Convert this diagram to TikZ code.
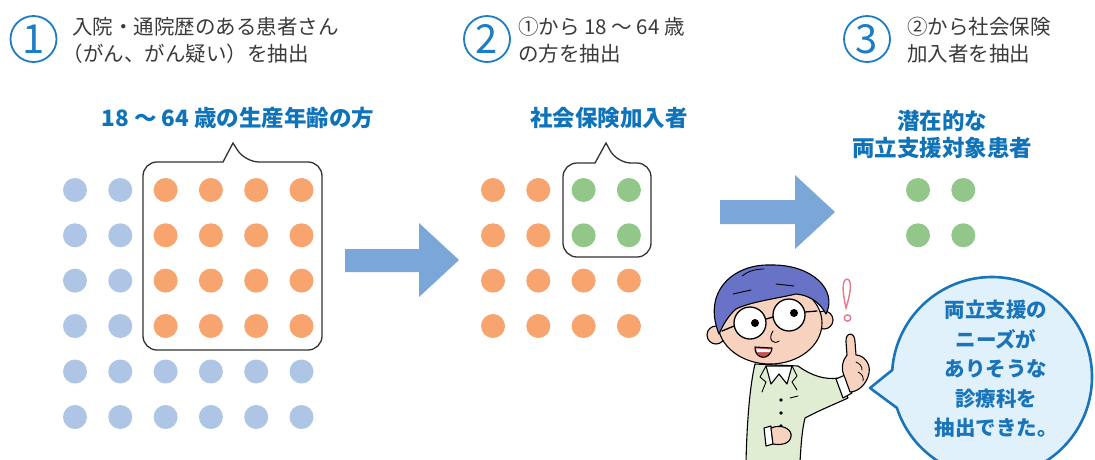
\documentclass[tikz,border=0pt]{standalone}
\usepackage{fontspec}
\setmainfont{Noto Sans CJK JP}
\definecolor{hdgray}{HTML}{3A3A3A}
\definecolor{numblue}{HTML}{1C7DC4}
\definecolor{headblue}{HTML}{0F73BA}
\definecolor{dotblue}{HTML}{AEC5E5}
\definecolor{dotorange}{HTML}{F7A46E}
\definecolor{dotgreen}{HTML}{93C78A}
\definecolor{arrowblue}{HTML}{7BA7D8}
\definecolor{bubblefill}{HTML}{E0F1FB}
\definecolor{bubbleline}{HTML}{1A74BA}
\definecolor{frameline}{HTML}{333333}
\definecolor{skin}{HTML}{F7D3BF}
\definecolor{hair}{HTML}{6872C6}
\definecolor{jacket}{HTML}{E0EDD3}
\definecolor{exclam}{HTML}{E8788A}
\definecolor{mouthred}{HTML}{C8504D}
\tikzset{
  numcirc/.style={circle, draw=numblue, line width=1.8pt, minimum size=46pt, inner sep=0pt,
    text=numblue, font=\fontsize{40}{40}\selectfont},
  hd/.style={anchor=west, align=left, inner sep=0pt, text=hdgray,
    font=\fontsize{20.5}{27}\selectfont},
  bh/.style={align=center, inner sep=0pt, text=headblue,
    font=\bfseries\fontsize{22.5}{27}\selectfont},
  bt/.style={align=center, inner sep=0pt, text=bubbleline,
    font=\bfseries\fontsize{20.5}{29.5}\selectfont},
  callout/.style={draw=frameline, line width=1.3pt, fill=white},
  bigarrow/.style={fill=arrowblue},
  ink/.style={draw=black, line width=1.1pt, line join=round, line cap=round},
}
\newcommand{\dotrow}[4]{% x0, y, count, colour
  \foreach \k in {1,...,#3}{\fill[#4] ({#1+(\k-1)*45.3},#2) circle (12);}}
\begin{document}
\begin{tikzpicture}[x=1pt,y=-1pt]
\useasboundingbox (0,0) rectangle (1095,459);
\fill[white] (0,0) rectangle (1095,459);
\clip (0,0) rectangle (1095,459);

% ---------- step headers ----------
\node[numcirc] (n1) at (33.5,39) {1};
\node[hd] (h1) at (72,40) {入院・通院歴のある患者さん\\\kern-0.45em（がん、がん疑い）を抽出};
\node[numcirc] (n2) at (487,39) {2};
\node[hd] (h2) at (518,40) {①から 18 ～ 64 歳\\の方を抽出};
\node[numcirc] (n3) at (867,39) {3};
\node[hd] (h3) at (907,40) {②から社会保険\\加入者を抽出};

% ---------- headings ----------
\node[bh] (t1) at (238,118) {18 ～ 64 歳の生産年齢の方};
\node[bh] (t2) at (609,118) {社会保険加入者};
\node[bh] (t3) at (942,134) {潜在的な\\両立支援対象患者};

% ---------- group 1 ----------
\draw[callout] (223,162) [rounded corners=14] -- (143,162) -- (143,350) -- (322,350) -- (322,162) -- (245,162)
  [sharp corners] -- (233,143) -- cycle;
\foreach \r in {190,235.3,280.6,326}{
  \dotrow{75}{\r}{2}{dotblue}
  \dotrow{165.6}{\r}{4}{dotorange}}
\dotrow{75}{371.5}{6}{dotblue}
\dotrow{75}{417}{6}{dotblue}

% ---------- arrow 1 ----------
\fill[bigarrow] (345,249) -- (419,249) -- (419,223) -- (459,260) -- (419,297) -- (419,272) -- (345,272) -- cycle;

% ---------- group 2 ----------
\draw[callout] (595,163) [rounded corners=14] -- (563,163) -- (563,257) -- (651,257) -- (651,163) -- (617,163)
  [sharp corners] -- (606,143) -- cycle;
\foreach \r in {190,235.3}{
  \dotrow{493}{\r}{2}{dotorange}
  \dotrow{583.6}{\r}{2}{dotgreen}}
\foreach \r in {280.6,326}{\dotrow{493}{\r}{4}{dotorange}}

% ---------- arrow 2 ----------
\fill[bigarrow] (720,200) -- (795,200) -- (795,175) -- (835,212) -- (795,249) -- (795,224) -- (720,224) -- cycle;

% ---------- group 3 ----------
\foreach \r in {190,235.3}{\dotrow{918}{\r}{2}{dotgreen}}

% ---------- the pointing doctor ----------
% jacket
\filldraw[ink, fill=jacket] (755,364) .. controls (750,385) and (747,420) .. (746,462)
  -- (800,462) .. controls (801,445) and (802,430) .. (805,418)
  .. controls (820,410) and (835,404) .. (848,398) -- (839,378)
  .. controls (825,380) and (812,376) .. (798,366) -- cycle;
% shirt collar
\filldraw[ink, fill=white] (766,366) -- (771,384) -- (779,374) -- (787,384) -- (792,366) -- cycle;
\draw[ink, line width=0.9pt] (766,366) -- (760,377) -- (766,382) -- (762,392);
\draw[ink, line width=0.9pt] (792,366) -- (797,376) -- (792,382) -- (797,390);
\draw[ink, line width=0.9pt] (790,398) -- (798,396);
\foreach \b in {400,413,426}{\fill (781,\b) circle (1.8);}
% raised arm cuff and hand
\filldraw[ink, fill=white] (836,379) -- (845,375) -- (852,393) -- (843,398) -- cycle;
\filldraw[ink, fill=skin] (845,378) .. controls (840,368) and (843,360) .. (847,355)
  -- (846,342) .. controls (845,332) and (855,331) .. (855,342) -- (856,355)
  .. controls (863,355) and (871,363) .. (869,373) .. controls (867,384) and (858,392) .. (850,392) -- cycle;
\draw[ink, line width=0.8pt] (856,362) .. controls (860,364) and (862,366) .. (862,370);
\draw[ink, line width=0.8pt] (858,372) .. controls (862,374) and (864,377) .. (863,381);
% lower fist
\filldraw[ink, fill=white] (764,428) -- (771,426) -- (773,444) -- (766,446) -- cycle;
\filldraw[ink, fill=skin] (771,428) .. controls (780,424) and (790,428) .. (791,434)
  .. controls (792,442) and (784,446) .. (773,444) -- cycle;
% ears
\filldraw[ink, fill=skin] (716,335) circle (9);
\filldraw[ink, fill=skin] (824,320) circle (9);
% face
\filldraw[ink, fill=skin] (770,323) ellipse [x radius=52, y radius=41];
% hair
\filldraw[ink, fill=hair] (719,334) .. controls (702,292) and (733,264) .. (770,265)
  .. controls (812,264) and (838,290) .. (826,314)
  .. controls (819,301) and (808,295) .. (796,294)
  .. controls (774,299) and (750,302) .. (736,309)
  .. controls (728,316) and (723,325) .. (719,334) -- cycle;
\draw[ink, line width=0.9pt] (733,294) -- (751,290);
\draw[ink, line width=0.9pt] (776,284) -- (794,286);
\draw[ink, line width=0.8pt] (742,276) .. controls (748,271) and (756,269) .. (764,269);
% glasses
\filldraw[ink, line width=1.3pt, fill=white] (750,323) circle (16);
\filldraw[ink, line width=1.3pt, fill=white] (789,315) circle (16);
\draw[ink, line width=1.3pt] (766,319) -- (773,317);
\draw[ink, line width=1.3pt] (734,326) -- (722,331);
\draw[ink, line width=1.3pt] (805,312) -- (817,311);
\fill (755,323) circle (4);
\fill (794,313) circle (4);
% nose and mouth
\draw[ink, line width=0.9pt] (773,331) .. controls (767,340) and (774,345) .. (779,341);
\filldraw[ink, fill=mouthred] (755,347) .. controls (754,359) and (770,362) .. (772,348) -- cycle;
\fill[white] (756,348.5) -- (771,349.5) -- (770,352) -- (757,352) -- cycle;
% exclamation mark
\draw[exclam, line width=1.4pt] (847,279) .. controls (841,280) and (843,295) .. (846,308)
  .. controls (850,295) and (853,280) .. (847,279);
\draw[exclam, line width=1.4pt] (847.5,318) circle (3.2);

% ---------- speech bubble ----------
\coordinate (bc) at (992,377);
\coordinate (tip) at (870,388);
\filldraw[fill=bubblefill, draw=bubbleline, line width=2.6pt, line join=round]
  ([shift={(184:100)}]bc) arc[start angle=184, end angle=522, radius=100] -- (tip) -- cycle;
\node[bt] (bt) at (996,369) {両立支援の\\ニーズが\\ありそうな\\診療科を\\抽出できた。};
\end{tikzpicture}
\end{document}
